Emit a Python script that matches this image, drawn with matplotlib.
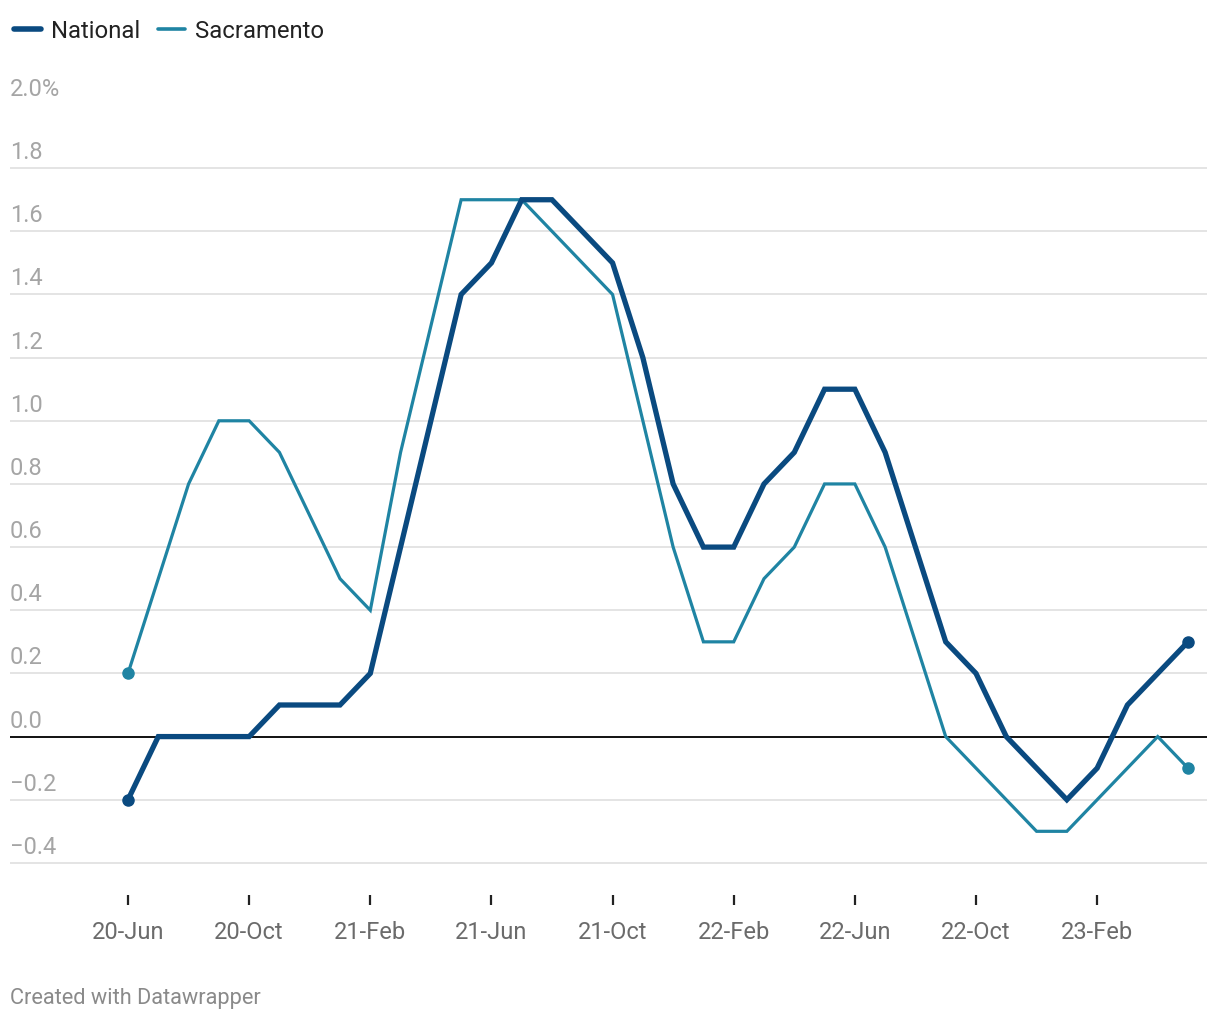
import matplotlib.pyplot as plt
from matplotlib.lines import Line2D
import matplotlib.transforms as mtransforms

plt.rcParams['font.family'] = ['Roboto', 'DejaVu Sans']

# monthly, Jun 2020 .. May 2023
months = list(range(36))
national = [-0.2, 0.0, 0.0, 0.0, 0.0, 0.1, 0.1, 0.1, 0.2, 0.6, 1.0, 1.4,
            1.5, 1.7, 1.7, 1.6, 1.5, 1.2, 0.8, 0.6, 0.6, 0.8, 0.9, 1.1,
            1.1, 0.9, 0.6, 0.3, 0.2, 0.0, -0.1, -0.2, -0.1, 0.1, 0.2, 0.3]
sacramento = [0.2, 0.5, 0.8, 1.0, 1.0, 0.9, 0.7, 0.5, 0.4, 0.9, 1.3, 1.7,
              1.7, 1.7, 1.6, 1.5, 1.4, 1.0, 0.6, 0.3, 0.3, 0.5, 0.6, 0.8,
              0.8, 0.6, 0.3, 0.0, -0.1, -0.2, -0.3, -0.3, -0.2, -0.1, 0.0, -0.1]
tick_pos = [0, 4, 8, 12, 16, 20, 24, 28, 32]
tick_labels = ['20-Jun', '20-Oct', '21-Feb', '21-Jun', '21-Oct',
               '22-Feb', '22-Jun', '22-Oct', '23-Feb']
y_ticks = [-0.4, -0.2, 0.0, 0.2, 0.4, 0.6, 0.8, 1.0, 1.2, 1.4, 1.6, 1.8, 2.0]

NAT_C = '#0a4a80'
SAC_C = '#1f84a3'

W, H = 1220, 1020
fig = plt.figure(figsize=(W / 100, H / 100), dpi=100)
# axes in pixel terms: left 10, right 1207, top 107, bottom 906
ax = fig.add_axes([10 / W, 1 - 906 / H, (1207 - 10) / W, (906 - 107) / H])

px_per_month = (1188 - 128) / 35
ax.set_xlim((10 - 128) / px_per_month, (1207 - 128) / px_per_month)
ax.set_ylim(-0.4 - 42 / 315, 2.0 - 1 / 315)

for s in ax.spines.values():
    s.set_visible(False)

ytrans = mtransforms.blended_transform_factory(ax.transAxes, ax.transData)
for v in y_ticks:
    if v == 0:
        ax.axhline(0, color='#111111', lw=1.4, zorder=2)
    else:
        ax.axhline(v, color='#e2e2e2', lw=1.3, zorder=1)
    lab = f'{v:.1f}'.replace('-', '\u2212')
    if v == 2.0:
        lab += '%'
    ax.text(0, v + 0.016, lab, transform=ytrans,
            ha='left', va='bottom', fontsize=17, color='#a5a5a5')

ax.set_yticks([])
ax.set_xticks(tick_pos)
ax.set_xticklabels(tick_labels)
ax.tick_params(axis='x', direction='in', length=7, width=1.6, color='#222222',
               pad=11, labelsize=17, labelcolor='#6b6b6b')

ax.plot(months, sacramento, color=SAC_C, lw=2.3, zorder=3, solid_joinstyle='miter')
ax.plot(months, national, color=NAT_C, lw=3.8, zorder=4, solid_joinstyle='miter')
ax.plot([months[0], months[-1]], [sacramento[0], sacramento[-1]], 'o', color=SAC_C, ms=8, zorder=5)
ax.plot([months[0], months[-1]], [national[0], national[-1]], 'o', color=NAT_C, ms=8, zorder=5)

handles = [Line2D([], [], color=NAT_C, lw=4, solid_capstyle='round'),
           Line2D([], [], color=SAC_C, lw=2.6, solid_capstyle='round')]
fig.legend(handles, ['National', 'Sacramento'], loc='center left',
           bbox_to_anchor=(-8 / W, 1 - 32 / H), ncol=2, frameon=False,
           fontsize=17.2, handlelength=1.15, handletextpad=0.4, columnspacing=0.75,
           labelcolor='#222222')

fig.text(10 / W, 1 - 999 / H, 'Created with Datawrapper', ha='left', va='center',
         fontsize=15.7, color='#8a8a8a')

fig.savefig('out.png', dpi=100)
